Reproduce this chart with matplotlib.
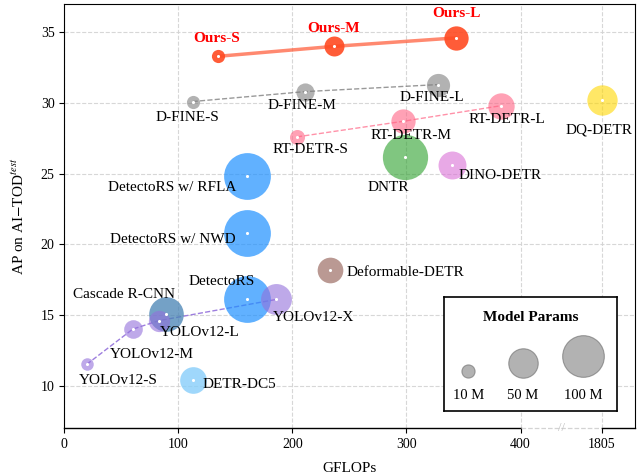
import matplotlib
matplotlib.use("Agg")
import matplotlib.pyplot as plt

plt.rcParams['font.family'] = ['Liberation Serif', 'DejaVu Serif']
plt.rcParams['mathtext.fontset'] = 'stix'

# ---- data (GFLOPs, AP on AI-TOD test, params in M) ----
models = ["Cascade R-CNN", "DetectoRS", "DetectoRS w/ NWD", "DetectoRS w/ RFLA",
          "DETR-DC5", "Deformable-DETR", "DINO-DETR", "DNTR", "DQ-DETR",
          "D-FINE-S", "D-FINE-M", "D-FINE-L",
          "RT-DETR-S", "RT-DETR-M", "RT-DETR-L",
          "YOLOv12-S", "YOLOv12-M", "YOLOv12-L", "YOLOv12-X",
          "Ours-S", "Ours-M", "Ours-L"]
gflops = [89, 160.5, 160.5, 160.5,
          113, 233, 339.5, 299, 1805,
          112.5, 211, 328,
          204, 297, 382.5,
          19.5, 60, 83, 186,
          135, 236, 343]
ap = [15.1, 16.1, 20.8, 24.8,
      10.4, 18.2, 25.6, 26.2, 30.2,
      30.1, 30.8, 31.3,
      27.6, 28.7, 29.8,
      11.5, 14.0, 14.6, 16.1,
      33.3, 34.0, 34.6]
params = [69, 126, 126, 126,
          41, 38, 45, 118, 53,
          10, 19, 31,
          13, 34, 40,
          9, 20, 26, 55,
          10, 23, 34]

families = {
    "D-FINE": ["D-FINE-S", "D-FINE-M", "D-FINE-L"],
    "RT-DETR": ["RT-DETR-S", "RT-DETR-M", "RT-DETR-L"],
    "YOLOv12": ["YOLOv12-S", "YOLOv12-M", "YOLOv12-L", "YOLOv12-X"],
    "Ours": ["Ours-S", "Ours-M", "Ours-L"],
}
legend_params = [10, 50, 100]
x_ticks = [0, 100, 200, 300, 400, 1805]

# ---- styles ----
colors = {
    "Cascade R-CNN": ("steelblue", 0.75),
    "DetectoRS": ("dodgerblue", 0.7),
    "DetectoRS w/ NWD": ("dodgerblue", 0.7),
    "DetectoRS w/ RFLA": ("dodgerblue", 0.7),
    "DETR-DC5": ("lightskyblue", 0.8),
    "Deformable-DETR": ("#8c564b", 0.6),
    "DINO-DETR": ("orchid", 0.6),
    "DNTR": ("#2ca02c", 0.6),
    "DQ-DETR": ("gold", 0.6),
    "D-FINE": ("grey", 0.6),
    "RT-DETR": ("#FF6384", 0.6),
    "YOLOv12": ("mediumpurple", 0.6),
    "Ours": ("#FF4A22", 0.9),
}
line_styles = {
    "D-FINE": dict(color="grey", ls="--", lw=1.0, alpha=0.8),
    "RT-DETR": dict(color="#FF6384", ls="--", lw=1.0, alpha=0.7),
    "YOLOv12": dict(color="mediumpurple", ls="--", lw=1.0, alpha=0.9),
    "Ours": dict(color="#FF5733", ls="-", lw=2.5, alpha=0.7),
}
# label offsets in pixels (dx, dy)
label_offsets = {
    "Ours-S": (-2, 18), "Ours-M": (0, 18), "Ours-L": (1, 24),
    "D-FINE-S": (-5, -16), "D-FINE-M": (-3, -14), "D-FINE-L": (-7, -13),
    "RT-DETR-S": (13, -13), "RT-DETR-M": (8, -14), "RT-DETR-L": (6, -14),
    "DQ-DETR": (-3, -30), "DNTR": (-17, -31), "DINO-DETR": (49, -10),
    "DetectoRS w/ RFLA": (-75, -11), "DetectoRS w/ NWD": (-75, -7),
    "DetectoRS": (-26, 18), "Deformable-DETR": (75, -3),
    "YOLOv12-X": (37, -18), "Cascade R-CNN": (-42, 19),
    "YOLOv12-L": (41, -12), "YOLOv12-M": (19, -25), "YOLOv12-S": (32, -16),
    "DETR-DC5": (46, -5),
}

BREAK_AT = 400
GAP = 1805 - 471.5   # removed span of the broken x axis


def xpos(g):
    return g if g <= BREAK_AT else g - GAP


def size(p):
    return 9.0 * p


def family_of(name):
    for fam, members in families.items():
        if name in members:
            return fam
    return name


fig = plt.figure(figsize=(6.44, 4.76), dpi=100)
ax = fig.add_axes([0.1, 0.1008, 0.8853, 0.8908])

idx = {m: i for i, m in enumerate(models)}

# connecting lines
for fam, members in families.items():
    xs = [xpos(gflops[idx[m]]) for m in members]
    ys = [ap[idx[m]] for m in members]
    ax.plot(xs, ys, zorder=3 if fam != "Ours" else 5, **line_styles[fam])

# bubbles
for i, m in enumerate(models):
    fam = family_of(m)
    c, a = colors[fam]
    z = 4 if fam != "Ours" else 6
    ax.scatter(xpos(gflops[i]), ap[i], s=size(params[i]), color=c, alpha=a,
               linewidths=0, zorder=z)
    ax.scatter(xpos(gflops[i]), ap[i], s=5, color="white", linewidths=0, zorder=z + 0.5)
    dx, dy = label_offsets[m]
    if fam == "Ours":
        ax.annotate(m, (xpos(gflops[i]), ap[i]), xytext=(dx, dy), textcoords="offset pixels",
                    ha="center", va="center", fontsize=11, fontweight="bold", color="red", zorder=7)
    else:
        ax.annotate(m, (xpos(gflops[i]), ap[i]), xytext=(dx, dy), textcoords="offset pixels",
                    ha="center", va="center", fontsize=11, color="black", zorder=7)

ax.set_xlim(0, 500)
ax.set_ylim(7, 37)
ax.set_xticks([xpos(t) for t in x_ticks])
ax.set_xticklabels([str(t) for t in x_ticks])
ax.set_yticks([10, 15, 20, 25, 30, 35])
ax.tick_params(labelsize=10)
ax.grid(linestyle="--", color="lightgrey", linewidth=0.8, alpha=0.9)
ax.set_axisbelow(True)
ax.set_xlabel("GFLOPs", fontsize=11, labelpad=8)
ax.set_ylabel(r"AP on AI$-$TOD$^{test}$", fontsize=11, labelpad=10)

# broken bottom spine
ax.spines["bottom"].set_visible(False)
tr = ax.get_xaxis_transform()
ax.plot([0, BREAK_AT], [0, 0], color="black", lw=1.0, transform=tr, clip_on=False, zorder=8)
ax.plot([BREAK_AT, xpos(1805)], [0, 0], color="lightgrey", ls="--", lw=0.9,
        transform=tr, clip_on=False, zorder=8)
ax.plot([xpos(1805), 500], [0, 0], color="black", lw=1.0, transform=tr, clip_on=False, zorder=8)
ax.text((BREAK_AT + xpos(1805)) / 2, 0, "//", transform=tr, ha="center", va="center",
        color="silver", fontsize=9, zorder=9)

# params legend box
lax = ax.inset_axes([0.666, 0.040, 0.3035, 0.269])
lax.set_xlim(0, 173)
lax.set_ylim(0, 114)
lax.set_xticks([])
lax.set_yticks([])
for sp in lax.spines.values():
    sp.set_linewidth(1.2)
lax.text(87, 94, "Model Params", ha="center", va="center", fontsize=11, fontweight="bold")
for p, cx in zip(legend_params, [24.3, 79, 138.7]):
    r_px = size(p) ** 0.5 / 2 * 100 / 72
    lax.scatter(cx, 33.7 + r_px, s=size(p), color="grey", alpha=0.6,
                edgecolors="dimgrey", linewidths=0.8)
    lax.text(cx, 16, f"{p} M", ha="center", va="center", fontsize=10.5)

fig.savefig("out.png", dpi=100)
